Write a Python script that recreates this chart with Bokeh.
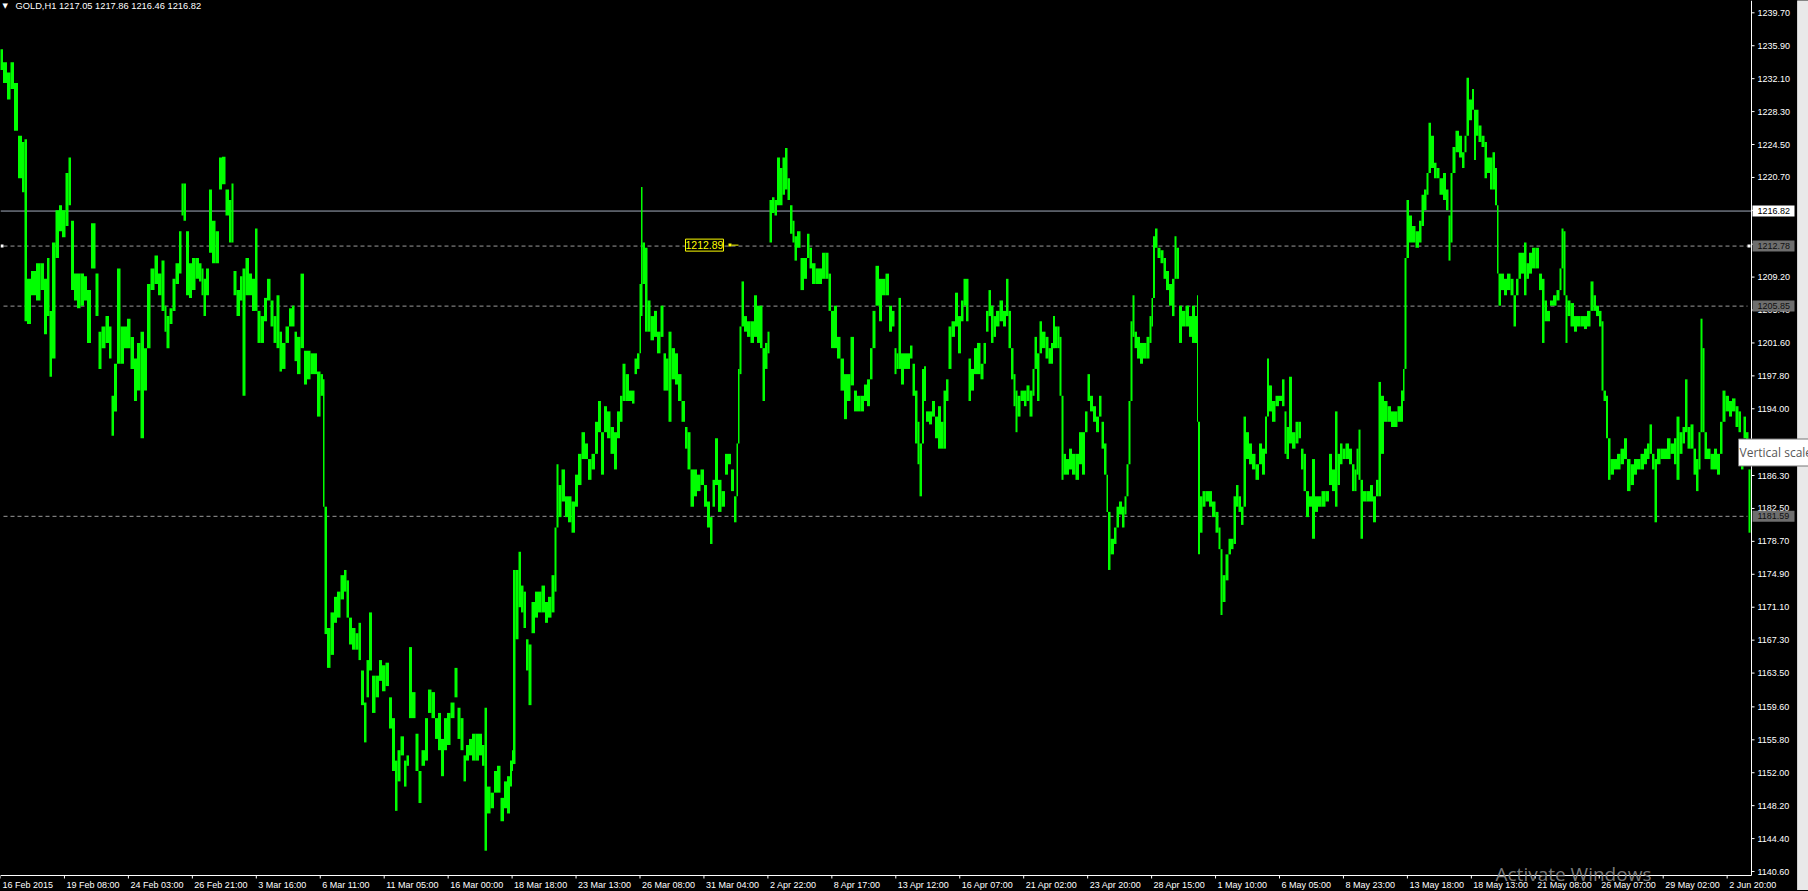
from bokeh.plotting import figure
from bokeh.models import (Range1d, Label, Arrow, GlobalInlineStyleSheet, ColumnDataSource)
from bokeh.core.properties import value
from bokeh.embed import file_html
from bokeh.resources import INLINE

# ---------------- data ----------------
SYMBOL = "GOLD,H1"
LAST_OHLC = [1217.05, 1217.86, 1216.46, 1216.82]
BID = 1216.82
LEVELS = [1212.78, 1205.85, 1181.59]
MARK_PRICE = 1212.89

BARS = [
 (0,1235.5,1233.1),(5,1234.0,1231.6),(8,1232.8,1229.7),(12,1234.0,1230.9),(15,1231.6,1226.1),(20,1225.5,1220.6),
 (23,1224.8,1219.0),(25,1225.1,1204.1),(28,1209.0,1203.8),(33,1209.9,1207.1),(38,1210.8,1206.5),(42,1210.8,1207.7),
 (45,1209.0,1202.6),(48,1211.4,1204.7),(50,1205.3,1197.7),(53,1213.2,1199.8),(57,1216.9,1211.4),(60,1217.5,1214.5),
 (63,1216.9,1213.8),(67,1221.2,1215.1),(69,1223.0,1217.5),(72,1215.7,1207.7),(75,1209.6,1206.5),(78,1209.6,1205.6),
 (82,1209.6,1205.9),(85,1209.3,1206.5),(88,1207.7,1201.6),(93,1215.4,1210.2),(97,1209.6,1204.7),(99,1202.9,1198.6),
 (103,1203.5,1201.0),(107,1204.7,1201.6),(110,1203.5,1199.8),(112,1195.5,1190.9),(115,1199.2,1193.7),(118,1210.2,1199.2),
 (122,1203.5,1199.2),(125,1203.5,1201.0),(128,1204.4,1201.0),(132,1202.3,1198.6),(135,1199.8,1194.9),(138,1201.6,1196.1),
 (142,1202.9,1190.6),(145,1201.0,1196.1),(148,1208.4,1201.0),(152,1210.2,1207.7),(156,1211.7,1208.4),(159,1209.6,1207.1),
 (163,1211.1,1205.3),(165,1205.9,1202.9),(167,1204.7,1201.0),(171,1205.6,1203.8),(173,1209.0,1205.3),(177,1210.8,1208.4),
 (180,1214.5,1209.6),(182,1220.0,1216.3),(184,1220.0,1215.7),(187,1214.5,1207.1),(190,1210.8,1206.8),(193,1211.4,1207.7),
 (197,1211.4,1209.0),(200,1210.8,1208.7),(202,1210.2,1207.1),(204,1209.0,1204.7),(207,1210.2,1207.1),(210,1219.3,1212.0),
 (213,1215.7,1210.8),(217,1214.5,1210.8),(220,1223.0,1219.3),(223,1223.1,1219.9),(227,1219.3,1216.3),(230,1218.1,1213.2),
 (232,1220.0,1213.2),(234,1209.9,1207.1),(238,1207.7,1204.7),(241,1209.3,1206.5),(243,1210.2,1195.5),(247,1211.4,1207.1),
 (250,1209.6,1207.1),(253,1209.0,1205.3),(256,1214.8,1205.3),(258,1205.3,1201.6),(262,1204.7,1201.6),(265,1206.8,1204.1),
 (268,1209.0,1206.5),(272,1206.5,1203.5),(274,1204.7,1201.6),(278,1207.1,1201.0),(280,1202.9,1198.3),(283,1201.6,1198.6),
 (287,1203.5,1201.6),(290,1205.6,1203.5),(293,1205.9,1203.5),(295,1202.9,1199.5),(298,1202.3,1198.0),(302,1209.6,1201.0),
 (305,1200.7,1196.8),(308,1200.7,1197.4),(312,1200.4,1198.0),(315,1200.4,1198.0),(318,1198.3,1193.1),(322,1198.0,1195.5),
 (323,1197.4,1182.7),(325,1182.7,1168.0),(328,1168.7,1164.1),(332,1170.5,1165.6),(335,1172.3,1169.3),(338,1172.9,1169.9),
 (342,1174.8,1172.0),(345,1175.4,1172.9),(347,1174.2,1169.9),(350,1169.9,1166.8),(353,1168.7,1166.2),(357,1168.1,1166.2),
 (359,1169.3,1165.0),(362,1163.8,1159.8),(365,1160.1,1155.5),(367,1165.0,1160.7),(370,1170.5,1163.8),(373,1163.2,1158.9),
 (377,1163.2,1160.7),(380,1165.0,1162.6),(383,1164.4,1161.4),(387,1164.7,1162.0),(390,1160.7,1157.1),(393,1158.3,1152.2),
 (396,1153.4,1147.6),(398,1154.6,1151.0),(402,1156.2,1154.0),(405,1153.4,1150.4),(407,1154.0,1152.8),(410,1166.5,1158.3),
 (413,1161.3,1158.3),(417,1156.5,1152.2),(419,1152.2,1148.5),(423,1154.6,1152.8),(426,1158.3,1153.4),(429,1161.6,1158.9),
 (433,1161.3,1158.3),(436,1158.3,1155.9),(439,1158.9,1154.6),(442,1155.9,1151.6),(445,1158.3,1154.6),(448,1158.9,1155.2),
 (452,1160.1,1158.3),(456,1164.1,1160.7),(458,1159.5,1155.9),(462,1158.3,1154.6),(464,1154.0,1151.0),(467,1155.2,1153.4),
 (470,1155.9,1154.0),(473,1156.5,1153.4),(477,1156.5,1153.4),(480,1156.5,1154.0),(483,1155.2,1152.8),(485,1159.5,1143.0),
 (488,1150.4,1147.3),(492,1149.7,1147.9),(495,1152.2,1149.7),(498,1152.8,1149.7),(502,1149.1,1146.4),(505,1151.0,1147.9),
 (508,1151.6,1147.3),(511,1153.4,1150.4),(512,1154.6,1152.2),(513,1175.4,1153.0),(517,1175.4,1167.4),(519,1177.5,1171.1),
 (522,1173.6,1170.5),(524,1172.9,1168.7),(527,1167.4,1163.8),(529,1166.8,1159.8),(533,1171.7,1168.1),(536,1172.9,1169.9),
 (539,1172.9,1170.5),(543,1173.6,1170.5),(546,1171.7,1169.3),(549,1172.3,1169.9),(553,1174.8,1170.5),(555,1180.3,1172.9),
 (557,1187.6,1180.3),(559,1185.2,1181.5),(563,1187.0,1183.3),(566,1183.9,1181.5),(569,1183.9,1180.9),(573,1183.3,1179.7),
 (576,1186.4,1182.7),(579,1188.8,1185.2),(583,1191.3,1188.2),(586,1190.0,1188.2),(589,1188.2,1185.8),(593,1188.8,1187.0),
 (596,1192.5,1188.8),(599,1194.9,1191.3),(602,1191.3,1186.4),(605,1194.3,1191.3),(608,1193.7,1190.6),(612,1191.9,1188.8),
 (615,1191.3,1187.0),(618,1193.7,1190.6),(621,1195.5,1192.5),(623,1199.2,1194.9),(627,1198.0,1194.9),(630,1196.1,1194.9),
 (633,1196.1,1194.6),(635,1199.8,1198.0),(638,1200.4,1198.6),(640,1208.4,1200.4),(641,1219.6,1204.7),(643,1213.2,1208.4),
 (646,1212.6,1202.9),(648,1206.5,1202.9),(652,1204.7,1201.9),(655,1205.3,1202.3),(658,1202.9,1200.4),(662,1205.9,1202.3),
 (664,1200.4,1196.1),(667,1199.8,1196.1),(669,1202.9,1192.5),(673,1201.0,1197.4),(676,1200.4,1196.8),(679,1198.0,1194.9),
 (683,1194.9,1192.5),(686,1191.9,1189.4),(688,1191.3,1187.0),(692,1187.0,1182.7),(695,1187.0,1183.9),(698,1186.4,1184.5),
 (702,1187.0,1185.2),(705,1185.2,1182.7),(708,1183.3,1180.3),(711,1181.5,1178.4),(713,1185.8,1182.7),(716,1190.6,1185.2),
 (719,1185.8,1182.1),(723,1184.5,1182.7),(726,1188.8,1186.4),(729,1188.8,1187.6),(732,1187.0,1184.5),(735,1183.9,1180.9),
 (737,1190.0,1183.9),(738,1198.6,1190.0),(740,1203.5,1198.0),(742,1208.7,1203.5),(745,1204.7,1202.9),(748,1204.1,1202.3),
 (752,1204.1,1201.6),(755,1207.1,1202.3),(758,1205.9,1201.6),(761,1205.9,1201.0),(763,1201.0,1194.9),(766,1201.6,1198.6),
 (768,1202.9,1200.4),
 (770,1218.1,1213.2),(773,1218.4,1216.6),(775,1218.1,1216.3),(778,1223.0,1217.5),(781,1221.8,1217.5),(783,1223.0,1218.7),
 (786,1224.1,1219.3),(788,1220.6,1218.1),(791,1217.5,1214.2),(793,1215.7,1213.2),(795,1213.9,1211.1),(798,1214.5,1212.6),
 (802,1211.4,1207.7),(805,1211.4,1209.0),(808,1214.2,1211.4),(810,1212.6,1210.2),(813,1210.8,1208.4),(817,1210.2,1208.4),
 (820,1210.2,1208.4),(823,1212.0,1209.0),(827,1212.0,1209.0),(829,1209.6,1205.3),(832,1205.3,1201.0),(835,1205.9,1201.0),
 (838,1202.3,1199.8),(842,1199.8,1196.1),(845,1198.0,1192.8),(848,1198.0,1194.9),(852,1202.3,1196.7),(855,1196.1,1193.7),
 (858,1195.5,1193.7),(862,1195.5,1193.7),(865,1196.8,1194.9),(868,1197.4,1194.3),(871,1201.0,1197.4),(873,1205.3,1201.0),
 (877,1210.5,1205.9),(880,1209.0,1204.1),(883,1209.0,1207.1),(887,1209.6,1207.1),(890,1205.9,1202.9),(893,1205.3,1203.5),
 (895,1201.0,1198.0),(897,1200.4,1198.6),(899,1206.8,1198.6),(902,1200.4,1196.8),(905,1200.4,1198.6),(908,1200.4,1198.6),
 (911,1201.3,1199.8),(913,1199.2,1195.5),(916,1196.1,1190.0),(918,1192.5,1187.6),(920,1190.0,1183.9),(923,1198.6,1190.0),
 (924,1198.9,1194.9),(927,1193.7,1192.5),(930,1193.7,1192.2),(933,1194.9,1193.1),(936,1193.1,1190.6),(939,1194.3,1189.4),
 (942,1192.5,1189.4),(944,1196.1,1189.4),(947,1197.4,1194.9),(949,1203.5,1198.6),(953,1204.1,1202.3),(956,1207.4,1203.5),
 (959,1204.7,1200.4),(962,1206.5,1204.1),(964,1209.0,1205.9),(967,1209.0,1204.1),(969,1199.8,1194.9),(972,1198.6,1196.1),
 (975,1201.0,1198.0),(978,1201.6,1198.0),(982,1199.2,1197.4),(984,1201.6,1199.2),(987,1205.3,1202.9),(989,1207.7,1204.7),
 (992,1205.9,1201.6),(994,1204.7,1202.3),(997,1205.3,1203.5),(1001,1206.5,1204.1),(1004,1205.3,1203.5),(1007,1209.0,1204.7),
 (1009,1205.3,1201.0),(1012,1201.0,1197.4),(1014,1198.0,1194.3),(1016,1196.1,1191.3),(1018,1195.5,1193.1),(1022,1196.1,1194.9),
 (1025,1196.1,1194.3),(1027,1196.7,1194.9),(1031,1196.1,1193.1),(1033,1198.6,1195.5),(1035,1202.3,1198.6),(1038,1200.4,1194.9),
 (1040,1204.1,1200.4),(1043,1202.9,1201.0),(1047,1202.3,1199.8),(1049,1201.0,1199.2),(1052,1201.6,1199.2),(1053,1204.7,1201.0),
 (1056,1203.5,1201.0),(1058,1203.5,1201.0),(1060,1202.3,1195.5),(1062,1195.5,1185.8),(1064,1188.8,1186.4),(1067,1188.2,1186.4),
 (1070,1189.4,1187.0),(1073,1188.8,1186.4),(1077,1188.8,1185.8),(1080,1191.3,1187.6),(1083,1191.3,1186.4),(1086,1193.7,1191.3),
 (1088,1198.0,1194.9),(1091,1195.5,1193.7),(1094,1194.3,1192.5),(1097,1193.1,1191.3),(1100,1195.5,1193.1),(1102,1192.5,1189.4),
 (1105,1190.0,1186.4),(1107,1186.4,1182.1),(1108,1182.1,1175.4),(1112,1179.0,1177.2),(1115,1180.3,1178.4),(1117,1182.7,1180.3),
 (1120,1183.3,1181.8),(1123,1182.7,1180.3),(1125,1183.9,1181.8),(1127,1187.6,1183.9),(1129,1194.9,1187.6),(1131,1204.1,1194.9),
 (1133,1207.1,1202.3),(1135,1202.9,1201.0),(1138,1202.3,1199.8),(1141,1201.6,1199.2),(1144,1201.6,1199.8),(1148,1202.3,1199.8),
 (1150,1204.7,1201.6),(1152,1206.8,1203.5),(1153,1213.9,1206.8),(1156,1214.8,1212.6),(1158,1212.6,1211.4),(1162,1212.3,1210.8),
 (1164,1211.4,1209.0),(1167,1209.9,1207.7),(1170,1208.4,1205.9),(1173,1209.0,1204.7),(1175,1213.9,1209.0),(1177,1212.6,1209.0),
 (1180,1205.9,1201.6),(1183,1205.3,1203.5),(1187,1205.9,1203.5),(1190,1204.7,1202.3),(1193,1205.9,1201.6),(1196,1204.7,1201.6),
 (1197,1207.1,1192.5),(1198,1192.5,1177.2),(1201,1183.9,1179.7),(1203,1184.5,1182.7),(1207,1184.5,1183.3),(1210,1184.5,1182.7),
 (1213,1183.3,1181.5),(1217,1182.1,1179.7),(1219,1180.3,1177.8),(1221,1177.8,1170.2),(1223,1174.8,1171.7),(1227,1177.2,1174.2),
 (1229,1179.0,1177.2),(1232,1179.0,1177.8),(1234,1183.9,1178.4),(1237,1185.2,1182.7),(1239,1183.9,1182.1),(1242,1182.7,1180.6),
 (1244,1193.1,1182.7),(1247,1191.3,1188.2),(1250,1190.0,1187.6),(1253,1188.8,1187.0),(1257,1187.6,1185.8),(1260,1190.0,1187.6),
 (1263,1189.4,1186.4),(1266,1193.1,1188.8),(1267,1199.8,1193.1),(1270,1196.7,1193.7),(1273,1194.9,1192.5),(1277,1195.5,1194.3),
 (1280,1195.5,1194.9),(1283,1197.4,1194.3),(1285,1193.7,1188.8),(1287,1191.9,1188.2),(1290,1197.7,1190.0),(1293,1191.3,1189.4),
 (1297,1192.5,1190.0),(1299,1192.5,1190.6),(1302,1189.4,1187.0),(1304,1188.8,1184.5),(1307,1184.5,1181.5),(1310,1183.9,1182.7),
 (1313,1188.2,1179.0),(1316,1183.9,1182.1),(1319,1183.9,1182.7),(1323,1184.5,1182.7),(1327,1184.5,1183.3),(1330,1188.8,1185.2),
 (1333,1187.0,1184.5),(1336,1193.7,1182.7),(1338,1188.8,1185.2),(1341,1190.0,1187.6),(1343,1189.4,1188.2),(1347,1190.0,1188.2),
 (1350,1189.4,1187.6),(1353,1187.6,1184.5),(1355,1187.0,1184.5),(1357,1189.4,1186.4),(1359,1191.6,1185.8),(1361,1185.8,1179.0),
 (1364,1184.5,1183.3),(1368,1184.5,1183.3),(1371,1185.2,1183.3),(1374,1183.9,1180.9),(1377,1185.8,1183.9),(1379,1197.1,1183.9),
 (1382,1195.5,1188.8),(1385,1194.9,1192.5),(1389,1194.3,1192.5),(1392,1193.7,1191.9),(1395,1193.7,1191.9),(1399,1194.3,1192.5),
 (1402,1196.1,1192.5),(1403,1198.6,1194.9),(1405,1211.4,1198.6),(1407,1218.1,1211.4),(1410,1216.3,1213.2),(1413,1215.1,1213.2),
 (1417,1214.5,1212.6),(1420,1215.7,1213.2),(1422,1218.7,1215.1),(1425,1219.3,1216.9),(1427,1221.2,1218.7),(1429,1227.0,1221.2),
 (1432,1225.5,1221.8),(1435,1222.4,1220.6),(1437,1221.8,1220.6),(1441,1220.6,1218.7),(1444,1221.2,1218.1),(1447,1219.3,1216.9),
 (1449,1216.3,1211.1),(1451,1221.2,1213.2),(1453,1224.2,1221.2),(1457,1226.1,1223.6),(1460,1225.5,1223.0),(1463,1223.6,1221.8),
 (1465,1225.5,1223.6),(1467,1232.2,1225.5),(1470,1229.7,1227.3),(1473,1230.9,1228.5),(1474,1228.5,1222.7),(1477,1228.5,1225.5),
 (1479,1226.7,1224.8),(1483,1225.5,1224.2),(1485,1224.8,1220.6),(1488,1223.0,1221.2),(1491,1223.0,1219.3),(1493,1223.6,1219.3),
 (1496,1221.8,1217.5),(1497,1217.5,1209.6),(1499,1209.6,1205.9),(1502,1209.6,1207.7),(1505,1209.0,1207.1),(1508,1209.6,1207.7),
 (1512,1209.0,1207.1),(1514,1207.1,1203.5),(1517,1209.0,1207.1),(1519,1212.0,1209.0),(1522,1212.0,1209.6),(1525,1213.2,1207.1),
 (1527,1210.8,1209.0),(1530,1212.0,1209.6),(1533,1212.6,1210.2),(1537,1212.6,1210.2),(1540,1209.6,1207.7),(1543,1209.0,1201.6),
 (1545,1206.5,1204.1),(1548,1205.3,1204.1),(1551,1206.5,1205.9),(1554,1207.1,1205.9),(1558,1207.7,1206.5),(1560,1210.2,1207.7),
 (1562,1214.8,1210.2),(1564,1214.5,1207.1),(1566,1207.1,1201.6),(1568,1206.5,1204.7),(1572,1206.2,1203.5),(1575,1204.7,1202.9),
 (1578,1204.7,1203.5),(1582,1204.7,1203.5),(1585,1204.7,1203.2),(1588,1205.3,1203.5),(1592,1208.7,1205.3),(1594,1207.1,1205.3),
 (1597,1205.9,1204.7),(1600,1205.3,1203.5),(1602,1204.1,1196.1),(1604,1196.1,1194.9),(1607,1195.5,1190.6),(1608,1190.6,1185.8),
 (1612,1188.2,1186.4),(1615,1188.2,1187.0),(1618,1188.8,1187.0),(1622,1189.4,1187.6),(1625,1190.6,1188.2),(1628,1188.2,1184.5),
 (1632,1187.6,1185.2),(1635,1188.2,1186.4),(1638,1188.2,1187.0),(1642,1188.8,1187.0),(1645,1189.4,1187.6),(1648,1190.0,1188.2),
 (1650,1192.2,1188.8),(1653,1188.8,1187.0),(1655,1188.2,1180.9),(1658,1189.4,1187.6),(1662,1189.4,1188.2),(1665,1189.4,1188.2),
 (1668,1190.6,1188.2),(1672,1190.0,1188.8),(1675,1190.6,1187.6),(1677,1193.1,1185.8),(1681,1191.3,1188.8),(1683,1191.9,1190.0),
 (1686,1197.4,1191.3),(1688,1191.9,1189.4),(1692,1192.2,1189.4),(1694,1189.4,1186.4),(1697,1188.2,1184.5),(1699,1191.3,1187.0),
 (1701,1204.4,1191.3),(1703,1201.0,1191.3),(1705,1191.3,1188.2),(1708,1189.4,1188.2),(1712,1188.8,1187.0),(1715,1189.4,1187.0),
 (1718,1188.8,1186.4),(1721,1192.5,1188.8),(1723,1196.1,1192.5),(1727,1195.5,1193.7),(1730,1194.9,1193.1),(1733,1195.2,1193.7),
 (1737,1194.3,1191.9),(1739,1193.7,1191.3),(1742,1188.8,1187.0),(1744,1193.1,1190.6),(1747,1191.3,1188.8),(1749,1187.0,1179.7),
]
BAR_X = [b[0] for b in BARS]
BAR_HIGH = [b[1] for b in BARS]
BAR_LOW = [b[2] for b in BARS]

Y_TICKS = [1239.70, 1235.90, 1232.10, 1228.30, 1224.50, 1220.70, 1216.90, 1213.00, 1209.20, 1205.40,
           1201.60, 1197.80, 1194.00, 1190.10, 1186.30, 1182.50, 1178.70, 1174.90, 1171.10, 1167.30,
           1163.50, 1159.60, 1155.80, 1152.00, 1148.20, 1144.40, 1140.60]

X_TICK_LABELS = ["16 Feb 2015", "19 Feb 08:00", "24 Feb 03:00", "26 Feb 21:00", "3 Mar 16:00",
                 "6 Mar 11:00", "11 Mar 05:00", "16 Mar 00:00", "18 Mar 18:00", "23 Mar 13:00",
                 "26 Mar 08:00", "31 Mar 04:00", "2 Apr 22:00", "8 Apr 17:00", "13 Apr 12:00",
                 "16 Apr 07:00", "21 Apr 02:00", "23 Apr 20:00", "28 Apr 15:00", "1 May 10:00",
                 "6 May 05:00", "8 May 23:00", "13 May 18:00", "18 May 13:00", "21 May 08:00",
                 "26 May 07:00", "29 May 02:00", "2 Jun 20:00"]
BARS_PER_LABEL = 63.95

# ---------------- layout ----------------
FIG_W, FIG_H = 1808, 890          # the whole figure is the plotting frame
AXIS_X = 1751                     # bar position of the price-scale line (1 bar = 1 px)
SCROLL_X = 1797                   # left edge of the window scrollbar strip
BOX_W = 42                        # width of the price boxes on the scale (px)
X_START, X_END = 0, FIG_W
Y_END = 1241.12                   # price at the top edge
PX_PER_UNIT = 8.665
Y_START = Y_END - FIG_H / PX_PER_UNIT
AXIS_Y = Y_END - 875 / PX_PER_UNIT   # price at the time-scale line

GREEN = "#00FF00"
FONT = "Liberation Sans"


def px_x(cx):
    return X_START + cx


def px_y(cy):
    return Y_END - cy / PX_PER_UNIT


dy = 1 / PX_PER_UNIT

p = figure(width=FIG_W, height=FIG_H, output_backend="svg", toolbar_location=None,
           x_range=Range1d(X_START, X_END), y_range=Range1d(Y_START, Y_END),
           x_axis_location=None, y_axis_location=None,
           min_border=0, background_fill_color="black", border_fill_color="black",
           outline_line_color=None)
p.grid.visible = False

p.stylesheets = [GlobalInlineStyleSheet(
    css="html{background:#000000 !important;} body{background:#000000 !important;}")]

# window scrollbar strip at the right edge
p.quad(left=[SCROLL_X], right=[X_END], top=[Y_END], bottom=[Y_START],
       fill_color="#E9E9E9", line_color="#D0D0D0", line_width=1)

# level lines (behind bars), ending at the price scale
p.segment(x0=[X_START], x1=[AXIS_X], y0=[BID], y1=[BID], line_color="#A3ACBC", line_width=1)
p.segment(x0=[X_START + 3] * len(LEVELS), x1=[AXIS_X - 4] * len(LEVELS), y0=LEVELS, y1=LEVELS,
          line_color="#9A9A9A", line_width=1, line_dash="4 3")
p.rect(x=[X_START + 1.5, AXIS_X - 2.5], y=[LEVELS[0]] * 2, width=3, height=3 * dy,
       fill_color="white", line_color=None)

# bars: each sample covers the half-way span to its neighbours
lefts, rights = [], []
for i, x in enumerate(BAR_X):
    prev_x = BAR_X[i - 1] if i > 0 else x - 2
    next_x = BAR_X[i + 1] if i < len(BAR_X) - 1 else x + 2
    lefts.append(max((prev_x + x) / 2, x - 2.5))
    rights.append(min((x + next_x) / 2, x + 2.5))
src = ColumnDataSource(dict(left=lefts, right=rights, top=BAR_HIGH, bottom=BAR_LOW))
p.quad(left="left", right="right", top="top", bottom="bottom", source=src,
       fill_color=GREEN, line_color=None)

# ---- price scale (right) ----
p.segment(x0=[AXIS_X], x1=[AXIS_X], y0=[AXIS_Y], y1=[Y_END], line_color="white", line_width=1)
p.segment(x0=[AXIS_X] * len(Y_TICKS), x1=[AXIS_X + 3] * len(Y_TICKS), y0=Y_TICKS, y1=Y_TICKS,
          line_color="white", line_width=1)
p.text(x=[AXIS_X + 6] * len(Y_TICKS), y=Y_TICKS, text=[f"{v:.2f}" for v in Y_TICKS],
       text_align="left", text_baseline="middle", text_font=value(FONT), text_font_size="9px",
       text_color="white")

# ---- time scale (bottom) ----
x_ticks = [i * BARS_PER_LABEL for i in range(len(X_TICK_LABELS))]
p.segment(x0=[X_START], x1=[AXIS_X], y0=[AXIS_Y], y1=[AXIS_Y], line_color="white", line_width=1)
p.segment(x0=x_ticks, x1=x_ticks, y0=[AXIS_Y] * len(x_ticks), y1=[AXIS_Y - 3 * dy] * len(x_ticks),
          line_color="white", line_width=1)
p.text(x=[t + 2 for t in x_ticks], y=[AXIS_Y - 4 * dy] * len(x_ticks), text=X_TICK_LABELS,
       text_align="left", text_baseline="top", text_font=value(FONT), text_font_size="9px",
       text_color="white")

# price boxes on the scale (drawn over the tick labels)
box_prices = [BID] + LEVELS
box_fill = ["white"] + ["#6E6E6E"] * len(LEVELS)
box_text = ["black"] + ["#101010"] * len(LEVELS)
p.quad(left=[AXIS_X + 1] * len(box_prices), right=[AXIS_X + 1 + BOX_W] * len(box_prices),
       top=[v + 5.5 * dy for v in box_prices], bottom=[v - 5.5 * dy for v in box_prices],
       fill_color=box_fill, line_color=None)
p.text(x=[AXIS_X + 6] * len(box_prices), y=box_prices, text=[f"{v:.2f}" for v in box_prices],
       text_align="left", text_baseline="middle", text_font=value(FONT), text_font_size="9px",
       text_color=box_text)

# yellow price marker
p.add_layout(Label(x=px_x(685), y=MARK_PRICE, text=f"{MARK_PRICE:.2f}", text_align="left",
                   text_baseline="middle", text_font=FONT, text_font_size="10.5px", text_color="#FFFF00",
                   background_fill_color="black", border_line_color="#FFFF00", border_line_width=1,
                   padding=(0, 2)))
p.add_layout(Arrow(end=None, x_start=px_x(728), x_end=px_x(731), y_start=MARK_PRICE, y_end=MARK_PRICE,
                   line_color="#FFFF00", line_width=3))
p.add_layout(Arrow(end=None, x_start=px_x(731), x_end=px_x(738), y_start=MARK_PRICE, y_end=MARK_PRICE,
                   line_color="#FFFF00", line_width=1))

# header
p.add_layout(Label(x=px_x(2), y=px_y(1), text="\u25BC", text_align="left", text_baseline="top",
                   text_font="DejaVu Sans", text_font_size="7px", text_color="white"))
p.add_layout(Label(x=px_x(15), y=px_y(0), text=f"{SYMBOL}  " + " ".join(f"{v:.2f}" for v in LAST_OHLC),
                   text_align="left", text_baseline="top", text_font=FONT, text_font_size="9.3px",
                   text_color="white"))

# tooltip and watermark
p.add_layout(Label(x=px_x(1738), y=px_y(452), text="Vertical scale", text_align="left", text_baseline="middle",
                   text_font="Open Sans", text_font_size="12px", text_color="#575757",
                   background_fill_color="white", border_line_color="#767676", padding=(1, 5), level="overlay"))
p.add_layout(Label(x=px_x(1495), y=px_y(860), text="Activate Windows", text_align="left", text_baseline="top",
                   text_font="Open Sans", text_font_size="19px", text_color="#8A8A8A", text_alpha=0.9,
                   level="overlay"))

open("out.html", "w").write(file_html(p, INLINE))
